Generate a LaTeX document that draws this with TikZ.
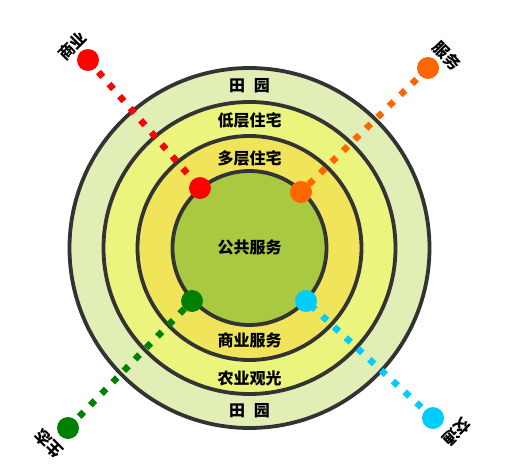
\documentclass[tikz,border=0pt]{standalone}
\usepackage{fontspec}
\setmainfont{Noto Sans CJK SC}
\definecolor{ringline}{HTML}{333333}
\definecolor{tianyuan}{HTML}{E1EFB6}
\definecolor{dicen}{HTML}{EBF47C}
\definecolor{duocen}{HTML}{F0E55A}
\definecolor{gonggong}{HTML}{A8C940}
\definecolor{shangye}{HTML}{FF0000}
\definecolor{fuwu}{HTML}{FF6600}
\definecolor{shengtai}{HTML}{008000}
\definecolor{jiaotong}{HTML}{00CCFF}
\begin{document}
\begin{tikzpicture}[x=1pt,y=-1pt,
    ring/.style={draw=ringline,line width=3.8pt},
    dot/.style={circle,fill=#1,minimum size=22pt,inner sep=0pt},
    link/.style={draw=#1,line width=6.5pt,dash pattern=on 6.5pt off 9.5pt},
    lbl/.style={font=\bfseries\fontsize{16}{16}\selectfont,inner sep=0pt}]
        \useasboundingbox (0,0) rectangle (511,476);
        \coordinate (c) at (249.5,248);
        % rings
        \draw[ring,fill=tianyuan] (c) circle[radius=180];
        \draw[ring,fill=dicen] (c) circle[radius=146];
        \draw[ring,fill=duocen] (c) circle[radius=112];
        \draw[ring,fill=gonggong] (c) circle[radius=77];
        % ring texts
        \node[lbl] (ty1) at (249.5,86) {田\hspace{0.55em}园};
        \node[lbl] (dc) at (249.5,120) {低层住宅};
        \node[lbl] (dy) at (249.5,158) {多层住宅};
        \node[lbl] (gg) at (249.5,247) {公共服务};
        \node[lbl] (sf) at (249.5,340) {商业服务};
        \node[lbl] (ny) at (249.5,378) {农业观光};
        \node[lbl] (ty2) at (249.5,411) {田\hspace{0.55em}园};
        % dot centres
        \coordinate (sy-out) at (88,60);
        \coordinate (sy-in) at (200,188);
        \coordinate (fw-out) at (428,68);
        \coordinate (fw-in) at (301,192);
        \coordinate (st-out) at (68,428);
        \coordinate (st-in) at (192,301);
        \coordinate (jt-out) at (433,418);
        \coordinate (jt-in) at (306,301);
        % links
        \draw[link=shangye] (sy-out) -- (sy-in);
        \draw[link=fuwu] (fw-out) -- (fw-in);
        \draw[link=shengtai] (st-out) -- (st-in);
        \draw[link=jiaotong] (jt-out) -- (jt-in);
        % dots
        \node[dot=shangye] (sy-a) at (sy-out) {};
        \node[dot=shangye] (sy-b) at (sy-in) {};
        \node[dot=fuwu] (fw-a) at (fw-out) {};
        \node[dot=fuwu] (fw-b) at (fw-in) {};
        \node[dot=shengtai] (st-a) at (st-out) {};
        \node[dot=shengtai] (st-b) at (st-in) {};
        \node[dot=jiaotong] (jt-a) at (jt-out) {};
        \node[dot=jiaotong] (jt-b) at (jt-in) {};
        % outer labels
        \node[lbl,rotate=45] (sy-t) at (72,46) {商业};
        \node[lbl,rotate=-45] (fw-t) at (447,56) {服务};
        \node[lbl,rotate=135] (st-t) at (49,444) {生态};
        \node[lbl,rotate=-135] (jt-t) at (457,432) {交通};
\end{tikzpicture}
\end{document}
